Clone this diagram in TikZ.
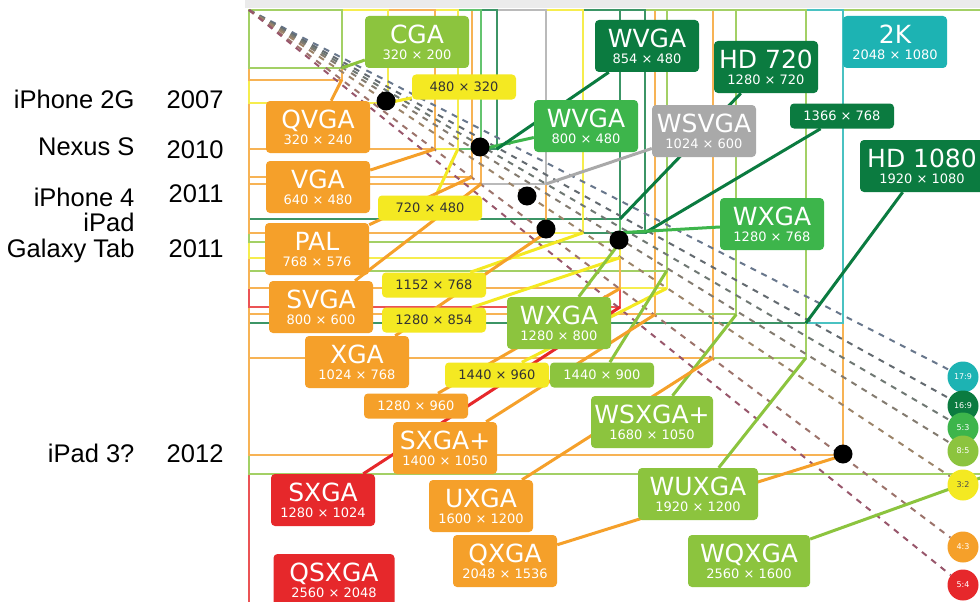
\documentclass[tikz,border=0pt]{standalone}
\usepackage{fontspec}
\setmainfont{Liberation Sans}
\newfontfamily\chartfont{DejaVu Sans}
\usetikzlibrary{backgrounds}

\definecolor{vorange}{HTML}{F5A02A}
\definecolor{vred}{HTML}{E6282B}
\definecolor{vyellow}{HTML}{F4E922}
\definecolor{vltgreen}{HTML}{8CC43E}
\definecolor{vgreen}{HTML}{3DB54B}
\definecolor{vdkgreen}{HTML}{0B7B40}
\definecolor{vcyan}{HTML}{1DB3B3}
\definecolor{vgray}{HTML}{A9A9A9}

\tikzset{
	lab/.style={rounded corners=4pt, text=white, minimum width=104pt, minimum height=52pt, inner sep=2pt, align=center, font=\chartfont\fontsize{13}{16}\selectfont},
	sml/.style={rounded corners=4pt, text=white, minimum width=104pt, minimum height=25pt, inner sep=1pt, font=\chartfont\fontsize{13}{14}\selectfont},
	ylw/.style={sml, fill=vyellow, text=black!80},
	rect/.style={line width=2pt},
	conn/.style={line width=3pt},
	ratioline/.style={dash pattern=on 6pt off 6pt, line width=2pt},
	ratio/.style={circle, minimum size=31pt, inner sep=0pt, text=white, font=\chartfont\fontsize{8}{8}\selectfont},
	dev/.style={circle, fill=black, minimum size=19pt, inner sep=0pt},
	who/.style={anchor=base east, font=\fontsize{25.5}{26}\selectfont}
}
\newcommand{\vidlab}[2]{{\fontsize{25}{25}\selectfont #1}\\ #2}

\begin{document}
\begin{tikzpicture}[x=1pt, y=-1pt]
		\useasboundingbox (0,0) rectangle (980,602);
		\coordinate (org) at (249,10);

		\node[lab, fill=vltgreen] (cga) at (417,42) {\vidlab{CGA}{320 × 200}};
		\node[ylw] (r480) at (464,87) {480 × 320};
		\node[lab, fill=vorange] (qvga) at (318,127) {\vidlab{QVGA}{320 × 240}};
		\node[lab, fill=vorange] (vga) at (318,187) {\vidlab{VGA}{640 × 480}};
		\node[ylw] (r720) at (430,208) {720 × 480};
		\node[lab, fill=vgreen] (wvgaa) at (586,126) {\vidlab{WVGA}{800 × 480}};
		\node[lab, fill=vdkgreen] (wvgab) at (647,46) {\vidlab{WVGA}{854 × 480}};
		\node[lab, fill=vdkgreen] (hdsev) at (766,67) {\vidlab{HD 720}{1280 × 720}};
		\node[lab, fill=vgray] (wsvga) at (704,131) {\vidlab{WSVGA}{1024 × 600}};
		\node[sml, fill=vdkgreen] (r1366) at (842,116) {1366 × 768};
		\node[lab, fill=vcyan] (twok) at (895,42) {\vidlab{2K}{2048 × 1080}};
		\node[lab, fill=vdkgreen, minimum width=124pt] (hdten) at (922,166) {\vidlab{HD 1080}{1920 × 1080}};
		\node[lab, fill=vgreen] (wxgaa) at (772,224) {\vidlab{WXGA}{1280 × 768}};
		\node[lab, fill=vorange] (pal) at (317,249) {\vidlab{PAL}{768 × 576}};
		\node[ylw] (r1152) at (434,285) {1152 × 768};
		\node[lab, fill=vorange] (svga) at (321,307) {\vidlab{SVGA}{800 × 600}};
		\node[ylw] (r1280b) at (434,320) {1280 × 854};
		\node[lab, fill=vltgreen] (wxgab) at (559,323) {\vidlab{WXGA}{1280 × 800}};
		\node[lab, fill=vorange] (xga) at (357,362) {\vidlab{XGA}{1024 × 768}};
		\node[ylw] (r1440a) at (497,375) {1440 × 960};
		\node[sml, fill=vltgreen] (r1440b) at (602,375) {1440 × 900};
		\node[sml, fill=vorange] (r1280a) at (416,406) {1280 × 960};
		\node[lab, fill=vltgreen, minimum width=122pt] (wsxga) at (652,422) {\vidlab{WSXGA+}{1680 × 1050}};
		\node[lab, fill=vorange] (sxgap) at (445,448) {\vidlab{SXGA+}{1400 × 1050}};
		\node[lab, fill=vred] (sxga) at (323,500) {\vidlab{SXGA}{1280 × 1024}};
		\node[lab, fill=vorange] (uxga) at (481,506) {\vidlab{UXGA}{1600 × 1200}};
		\node[lab, fill=vltgreen, minimum width=120pt] (wuxga) at (698,494) {\vidlab{WUXGA}{1920 × 1200}};
		\node[lab, fill=vorange] (qxga) at (505,561) {\vidlab{QXGA}{2048 × 1536}};
		\node[lab, fill=vltgreen, minimum width=122pt] (wqxga) at (749,561) {\vidlab{WQXGA}{2560 × 1600}};
		\node[lab, fill=vred, minimum width=121pt] (qsxga) at (334,580) {\vidlab{QSXGA}{2560 × 2048}};

		\node[ratio, fill=vcyan] (r179) at (963,377) {17:9};
		\node[ratio, fill=vdkgreen] (r169) at (963,406) {16:9};
		\node[ratio, fill=vgreen] (r53) at (963,428) {5:3};
		\node[ratio, fill=vltgreen] (r85) at (963,451) {8:5};
		\node[ratio, fill=vyellow, text=black!70] (r32) at (963,485) {3:2};
		\node[ratio, fill=vorange] (r43) at (963,547) {4:3};
		\node[ratio, fill=vred] (r54) at (963,585) {5:4};

		\begin{pgfonlayer}{background}
		\fill[white] (0,0) rectangle (980,602);
		\fill[black!8] (245,0) rectangle (980,8);
		\begin{scope}
		\clip (248,9) rectangle (980,601);
		\foreach \nm/\w/\h/\col in {qsxga/2560/2048/vred, wqxga/2560/1600/vltgreen, qxga/2048/1536/vorange,
			twok/2048/1080/vcyan, hdten/1920/1080/vdkgreen, wuxga/1920/1200/vltgreen, uxga/1600/1200/vorange,
			wsxga/1680/1050/vltgreen, sxgap/1400/1050/vorange, sxga/1280/1024/vred, r1440a/1440/960/vyellow,
			r1440b/1440/900/vltgreen, r1280a/1280/960/vorange, r1280b/1280/854/vyellow, wxgab/1280/800/vltgreen,
			wxgaa/1280/768/vgreen, r1366/1366/768/vdkgreen, hdsev/1280/720/vdkgreen, r1152/1152/768/vyellow,
			xga/1024/768/vorange, wsvga/1024/600/vgray, svga/800/600/vorange, pal/768/576/vorange,
			wvgab/854/480/vdkgreen, wvgaa/800/480/vgreen, r720/720/480/vyellow, vga/640/480/vorange,
			r480/480/320/vyellow, qvga/320/240/vorange, cga/320/200/vltgreen}{
			\coordinate (c-\nm) at ({249+0.29*\w},{10+0.29*\h});
			\draw[rect, \col!80] (org) rectangle (c-\nm);
		}

		\foreach \r/\col in {r179/vcyan, r169/vdkgreen, r53/vgreen, r85/vltgreen, r32/vyellow, r43/vorange, r54/vred}{
			\draw[ratioline, \col!60!violet!40!gray] (org) -- (\r);
		}

		\foreach \nm/\col in {cga/vltgreen, r480/vyellow, qvga/vorange, vga/vorange, r720/vyellow,
			wvgaa/vgreen, wvgab/vdkgreen, hdsev/vdkgreen, wsvga/vgray, r1366/vdkgreen, hdten/vdkgreen,
			wxgaa/vgreen, pal/vorange, r1152/vyellow, svga/vorange, r1280b/vyellow, wxgab/vltgreen,
			xga/vorange, r1440a/vyellow, r1440b/vltgreen, r1280a/vorange, wsxga/vltgreen, sxgap/vorange,
			sxga/vred, uxga/vorange, wuxga/vltgreen, qxga/vorange, wqxga/vltgreen}{
			\draw[conn, \col] (\nm) -- (c-\nm);
		}
		\end{scope}
		\end{pgfonlayer}

		\node[dev] (iphonetwog) at (386,101) {};
		\node[dev] (nexuss) at (480,147) {};
		\node[dev] (iphonefour) at (527,196) {};
		\node[dev] (ipad) at (546,229) {};
		\node[dev] (galaxytab) at (619,240) {};
		\node[dev] (ipadthree) at (843,454) {};

		\node[who] (t-iphonetwog) at (138,108) {iPhone 2G};
		\node[who] (y-iphonetwog) at (227,108) {2007};
		\node[who] (t-nexuss) at (138,155) {Nexus S};
		\node[who] (y-nexuss) at (227,158) {2010};
		\node[who] (t-iphonefour) at (138,206) {iPhone 4};
		\node[who] (y-iphonefour) at (227,202) {2011};
		\node[who] (t-ipad) at (138,231) {iPad};
		\node[who] (t-galaxytab) at (138,257) {Galaxy Tab};
		\node[who] (y-galaxytab) at (227,257) {2011};
		\node[who] (t-ipadthree) at (138,462) {iPad 3?};
		\node[who] (y-ipadthree) at (227,462) {2012};
\end{tikzpicture}
\end{document}
